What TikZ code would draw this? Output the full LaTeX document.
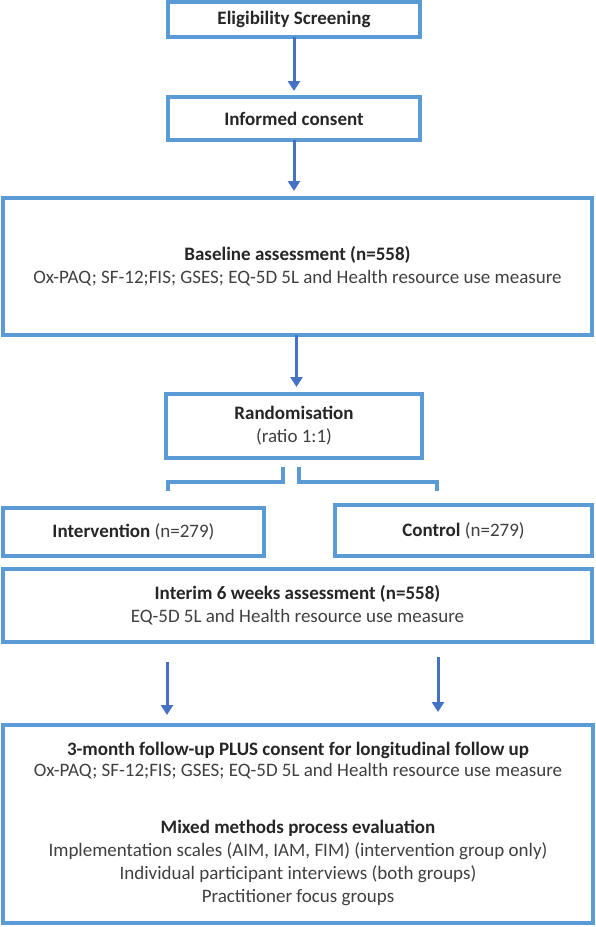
\documentclass[tikz,border=0pt]{standalone}
\usepackage{fontspec}
\setmainfont{Carlito}
\usetikzlibrary{arrows.meta}
\definecolor{boxblue}{HTML}{5B9BD5}
\definecolor{arrblue}{HTML}{4472C4}
\definecolor{txtdark}{HTML}{262626}
\definecolor{txtgray}{HTML}{404040}
\tikzset{
  box/.style={draw=boxblue, line width=3.2pt, fill=white, align=center, inner sep=0pt, outer sep=0pt,
    text=txtgray, font=\fontsize{19}{23}\selectfont},
  arr/.style={draw=arrblue, line width=3pt, -{Triangle[width=12pt,length=10pt]}},
  brk/.style={draw=boxblue, line width=3.2pt},
}
\newcommand{\hd}[1]{{\bfseries\color{txtdark}#1}}
\begin{document}
\begin{tikzpicture}[x=1pt,y=-1pt]
\useasboundingbox (0,0) rectangle (595,927);
\fill[white] (0,0) rectangle (595,927);
\node[box, minimum width=252pt, minimum height=35pt] (elig) at (294,19.5) {\hd{Eligibility Screening}};
\node[box, minimum width=252pt, minimum height=43pt] (cons) at (294,118.5) {\hd{Informed consent}};
\node[box, minimum width=589pt, minimum height=137pt] (base) at (297.5,266.5)
  {\hd{Baseline assessment (n=558)}\\Ox-PAQ; SF-12;FIS; GSES; EQ-5D 5L and Health resource use measure};
\node[box, minimum width=256pt, minimum height=64pt] (rand) at (294,426)
  {\hd{Randomisation}\\(ratio 1:1)};
\node[box, minimum width=261pt, minimum height=48pt] (interv) at (133.5,532) {\hd{Intervention} (n=279)};
\node[box, minimum width=257pt, minimum height=51pt] (ctrl) at (463.5,530.5) {\hd{Control} (n=279)};
\node[box, minimum width=589pt, minimum height=73pt] (interim) at (297.5,605.5)
  {\hd{Interim 6 weeks assessment (n=558)}\\EQ-5D 5L and Health resource use measure};
\node[box, minimum width=590pt, minimum height=198pt] (final) at (298,824)
  {\hd{3-month follow-up PLUS consent for longitudinal follow up}\\[-2pt]
   Ox-PAQ; SF-12;FIS; GSES; EQ-5D 5L and Health resource use measure\\[34pt]
   \hd{Mixed methods process evaluation}\\
   Implementation scales (AIM, IAM, FIM) (intervention group only)\\
   Individual participant interviews (both groups)\\
   Practitioner focus groups};
% arrows
\draw[arr, shorten >=6pt] (elig.south) -- (cons.north);
\draw[arr, shorten >=7pt] (cons.south) -- (cons.south |- base.north);
\draw[arr, shorten >=7pt] ([xshift=-1pt]base.south) -- ([xshift=-1pt]base.south |- rand.north);
% bracket
\coordinate (bl) at (283,467);
\coordinate (br) at (299,467);
\draw[brk] (bl) -- (283,482) -- (168,482) -- (168,491);
\draw[brk] (br) -- (299,482) -- (437,482) -- (437,491);
% arrows to final
\coordinate (al) at (167,662);
\coordinate (ar) at (438,657);
\draw[arr, shorten >=10pt] (al) -- (al |- final.north);
\draw[arr, shorten >=13pt] (ar) -- (ar |- final.north);
\end{tikzpicture}
\end{document}
